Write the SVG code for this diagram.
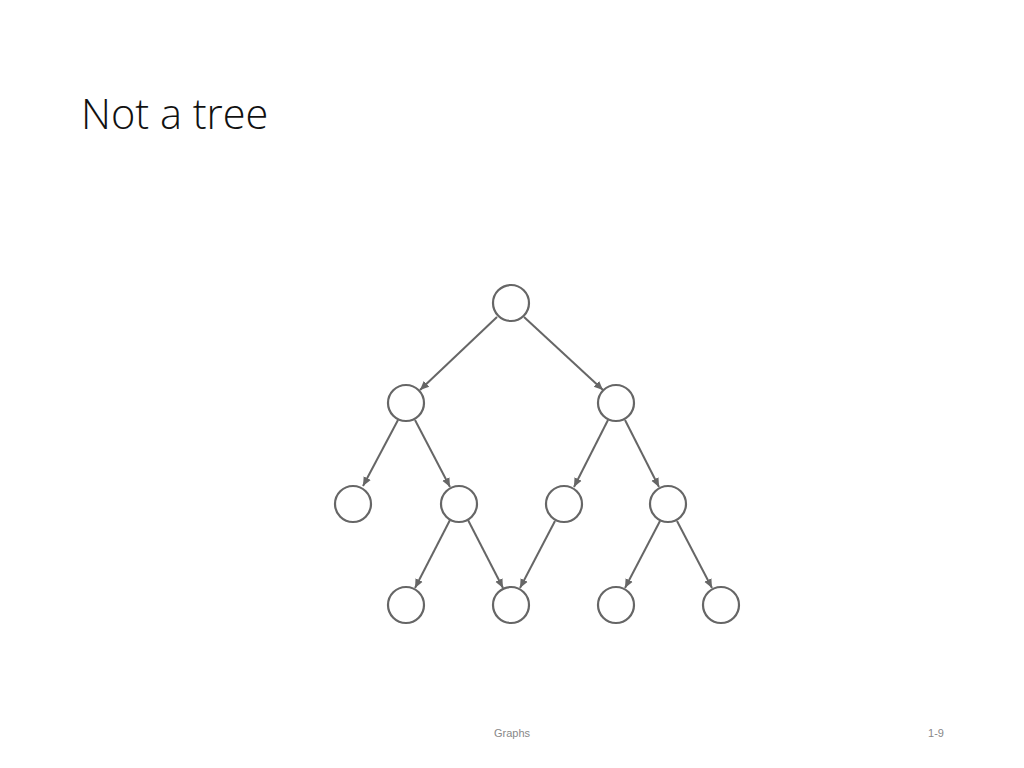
<svg xmlns="http://www.w3.org/2000/svg" width="1024" height="768" viewBox="0 0 1024 768">
<style>
.node{fill:#fff;stroke:#666;stroke-width:2.2}
.edge{stroke:#666;stroke-width:2;fill:none;marker-end:url(#arr)}
.title{font-family:"Open Sans","Liberation Sans",sans-serif;font-weight:300;font-size:41.5px;fill:#111}
.foot{font-family:"Liberation Sans",Arial,sans-serif;font-size:11px;fill:#888}
</style>
<defs>
<marker id="arr" markerUnits="userSpaceOnUse" markerWidth="10" markerHeight="10" viewBox="0 0 10 10" refX="9" refY="5" orient="auto">
<path d="M0,1 L9,5 L0,9 z" fill="#666"/>
</marker>
</defs>
<rect width="1024" height="768" fill="#fff"/>
<text class="title" x="81" y="129">Not a tree</text>
<g id="connectors">
<line class="edge" x1="497" y1="317" x2="420" y2="390"/>
<line class="edge" x1="524" y1="317" x2="603" y2="390"/>
<line class="edge" x1="398" y1="420" x2="363" y2="486"/>
<line class="edge" x1="415" y1="420" x2="450" y2="487"/>
<line class="edge" x1="608" y1="420" x2="574" y2="487"/>
<line class="edge" x1="625" y1="420" x2="659" y2="487"/>
<line class="edge" x1="450" y1="520" x2="415" y2="588"/>
<line class="edge" x1="468" y1="520" x2="503" y2="588"/>
<line class="edge" x1="555" y1="521" x2="520" y2="588"/>
<line class="edge" x1="660" y1="521" x2="625" y2="588"/>
<line class="edge" x1="677" y1="521" x2="712" y2="588"/>
</g>
<g id="n1"><circle class="node" cx="511" cy="303" r="18"/></g>
<g id="n2"><circle class="node" cx="406" cy="403" r="18"/></g>
<g id="n3"><circle class="node" cx="616" cy="403" r="18"/></g>
<g id="n4"><circle class="node" cx="353" cy="504" r="18"/></g>
<g id="n5"><circle class="node" cx="459" cy="504" r="18"/></g>
<g id="n6"><circle class="node" cx="564" cy="504" r="18"/></g>
<g id="n7"><circle class="node" cx="668" cy="504" r="18"/></g>
<g id="n8"><circle class="node" cx="406" cy="605" r="18"/></g>
<g id="n9"><circle class="node" cx="511" cy="605" r="18"/></g>
<g id="n10"><circle class="node" cx="616" cy="605" r="18"/></g>
<g id="n11"><circle class="node" cx="721" cy="605" r="18"/></g>
<text class="foot" x="512" y="737" text-anchor="middle">Graphs</text>
<text class="foot" x="936" y="737" text-anchor="middle">1-9</text>
</svg>
